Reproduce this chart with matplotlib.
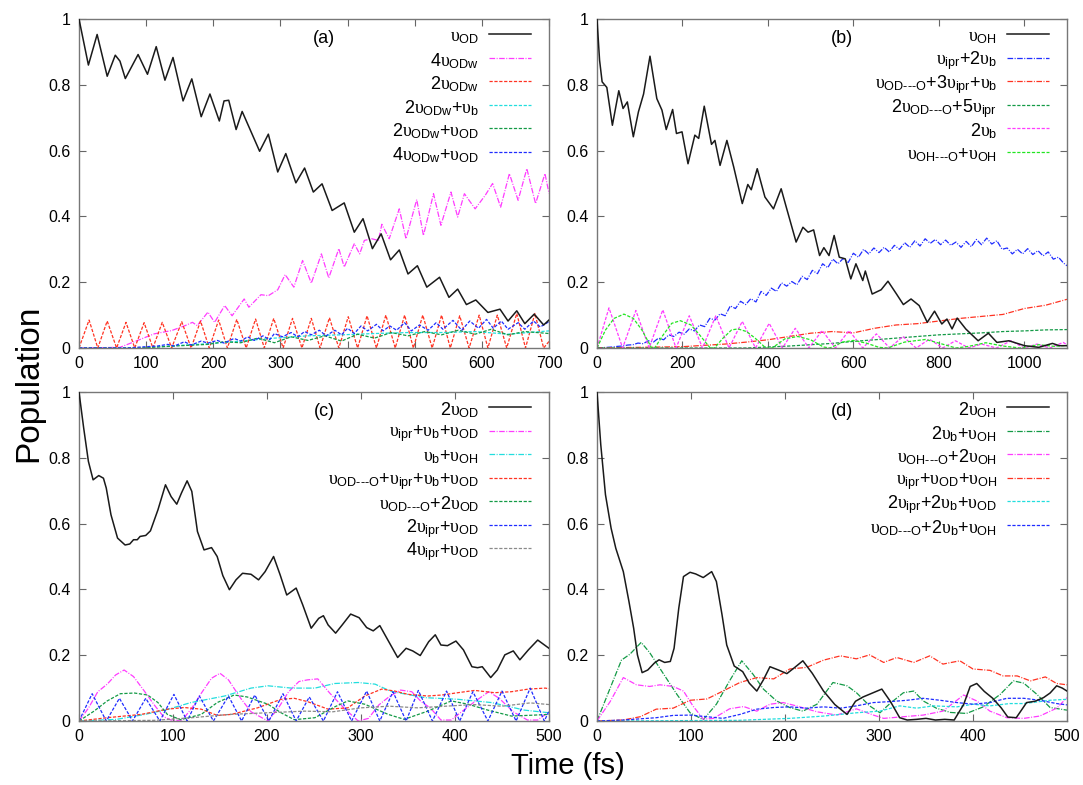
import matplotlib
matplotlib.use('Agg')
import matplotlib.pyplot as plt
from matplotlib.lines import Line2D

plt.rcParams['font.family'] = ['Liberation Sans', 'DejaVu Sans']
plt.rcParams['mathtext.fontset'] = 'custom'
plt.rcParams['mathtext.rm'] = 'Liberation Sans'
plt.rcParams['mathtext.it'] = 'Liberation Serif'
plt.rcParams['mathtext.bf'] = 'Liberation Sans:bold'

# ---------------- panel (a) ----------------
a_od_t = [0, 14, 27, 42, 54, 61, 69, 88, 102, 115, 128, 140, 155, 168, 182, 195, 209, 216, 223, 234, 243, 269,
          282, 296, 308, 323, 336, 349, 362, 377, 395, 410, 423, 437, 450, 464, 477, 490, 504, 518, 537, 551,
          564, 577, 591, 609, 627, 639, 652, 664, 678, 692, 700]
a_od_y = [1.0, 0.86, 0.953, 0.826, 0.89, 0.872, 0.819, 0.892, 0.832, 0.916, 0.814, 0.883, 0.751, 0.818, 0.703,
          0.772, 0.69, 0.751, 0.753, 0.664, 0.719, 0.598, 0.65, 0.535, 0.591, 0.502, 0.547, 0.474, 0.499, 0.418,
          0.441, 0.352, 0.393, 0.302, 0.347, 0.268, 0.298, 0.225, 0.25, 0.185, 0.215, 0.154, 0.179, 0.132, 0.146,
          0.108, 0.118, 0.082, 0.113, 0.074, 0.103, 0.07, 0.085]

a_4odw_t = [0, 61, 86, 112, 138, 158, 169, 176, 192, 202, 217, 228, 246, 253, 271, 282, 296, 307, 320, 333,
            346, 361, 372, 387, 395, 410, 418, 425, 436, 446, 451, 462, 477, 487, 503, 513, 528, 539, 554, 564,
            574, 590, 605, 616, 628, 641, 654, 667, 680, 694, 700]
a_4odw_y = [0, 0.002, 0.022, 0.043, 0.053, 0.068, 0.078, 0.068, 0.109, 0.078, 0.129, 0.098, 0.149, 0.124, 0.162,
            0.159, 0.177, 0.223, 0.185, 0.266, 0.197, 0.286, 0.213, 0.302, 0.246, 0.317, 0.286, 0.327, 0.332,
            0.327, 0.376, 0.332, 0.423, 0.332, 0.451, 0.342, 0.469, 0.373, 0.474, 0.398, 0.469, 0.423, 0.464,
            0.5, 0.428, 0.53, 0.449, 0.545, 0.439, 0.53, 0.47]

a_2odw_t = [0, 15, 28, 42, 56, 70, 83, 97, 110, 124, 138, 153, 167, 181, 194, 208, 221, 235, 249, 263, 276, 290,
            304, 318, 332, 346, 359, 373, 387, 401, 415, 429, 443, 457, 471, 485, 498, 512, 526, 540, 553, 567,
            581, 596, 609, 623, 637, 652, 665, 679, 692, 700]
a_2odw_y = [0, .085, 0, .082, 0, .078, 0, .077, 0, .078, 0, .08, 0, .082, 0, .085, 0, .087, 0, .088, 0, .09, 0,
            .09, 0, .09, 0, .092, 0, .095, 0, .098, 0, .1, 0, .1, 0, .1, 0, .1, 0, .098, 0, .1, 0, .1, 0, .105, 0,
            .105, 0, .02]

a_cyan_t = [0, 92, 142, 192, 241, 291, 341, 391, 440, 490, 540, 590, 639, 700]
a_cyan_y = [0, 0, 0.007, 0.013, 0.021, 0.03, 0.037, 0.04, 0.044, 0.047, 0.047, 0.05, 0.042, 0.052]

a_green_t = [0, 92, 142, 192, 216, 241, 266, 291, 316, 341, 366, 391, 415, 440, 465, 490, 515, 540, 565, 590,
             614, 639, 664, 700]
a_green_y = [0, 0, 0.006, 0.011, 0.019, 0.016, 0.03, 0.016, 0.034, 0.023, 0.037, 0.021, 0.042, 0.03, 0.047,
             0.037, 0.05, 0.04, 0.054, 0.042, 0.057, 0.04, 0.05, 0.044]

a_blue_t = [0, 72, 92, 117, 132, 142, 157, 167, 182, 192, 206, 216, 231, 241, 251, 261, 274, 284, 291, 303,
            316, 326, 336, 346, 358, 368, 381, 391, 400, 410, 420, 430, 443, 453, 463, 473, 485, 495, 507, 520,
            532, 542, 557, 570, 582, 595, 607, 617, 629, 639, 654, 664, 677, 687, 700]
a_blue_y = [0, 0, 0.003, 0.006, 0.011, 0.006, 0.019, 0.009, 0.021, 0.015, 0.023, 0.015, 0.029, 0.021, 0.034,
            0.023, 0.037, 0.025, 0.044, 0.034, 0.047, 0.034, 0.05, 0.04, 0.054, 0.037, 0.054, 0.04, 0.06, 0.044,
            0.067, 0.052, 0.072, 0.052, 0.067, 0.054, 0.077, 0.052, 0.07, 0.054, 0.077, 0.057, 0.084, 0.054,
            0.082, 0.06, 0.087, 0.06, 0.082, 0.057, 0.077, 0.057, 0.082, 0.064, 0.08]

# ---------------- panel (b) ----------------
b_oh_t = [0, 6, 12, 23, 36, 51, 61, 71, 85, 97, 109, 124, 140, 152, 162, 177, 186, 199, 213, 229, 238, 251, 268,
          276, 288, 304, 320, 340, 353, 361, 375, 393, 413, 431, 443, 466, 482, 494, 507, 521, 531, 543, 555,
          567, 581, 594, 606, 622, 628, 644, 665, 681, 701, 717, 735, 754, 773, 790, 807, 819, 831, 843, 863,
          892, 916, 936, 964, 1001, 1034, 1066, 1082, 1100]
b_oh_y = [1.0, 0.875, 0.809, 0.792, 0.677, 0.782, 0.728, 0.748, 0.642, 0.718, 0.772, 0.887, 0.758, 0.723,
          0.664, 0.725, 0.652, 0.657, 0.56, 0.647, 0.637, 0.735, 0.619, 0.631, 0.555, 0.631, 0.55, 0.439, 0.497,
          0.481, 0.545, 0.459, 0.423, 0.484, 0.428, 0.322, 0.367, 0.352, 0.359, 0.281, 0.305, 0.281, 0.342,
          0.276, 0.271, 0.21, 0.256, 0.205, 0.234, 0.164, 0.177, 0.203, 0.164, 0.132, 0.149, 0.129, 0.078, 0.112,
          0.073, 0.088, 0.058, 0.091, 0.058, 0.022, 0.045, 0.017, 0.022, 0.007, 0.002, 0.014, 0.007, 0.007]

b_ipr2b_t = [0, 12, 24, 36, 48, 60, 72, 84, 96, 108, 120, 132, 144, 156, 168, 180, 192, 204, 216, 228, 240,
             252, 264, 276, 288, 300, 312, 324, 336, 348, 360, 372, 384, 396, 408, 420, 432, 444, 456, 468, 480,
             492, 504, 516, 528, 540, 552, 564, 576, 588, 600, 612, 624, 636, 648, 660, 672, 684, 696, 708, 720,
             732, 744, 756, 768, 780, 792, 804, 816, 828, 840, 852, 864, 876, 888, 900, 912, 924, 936, 948, 960,
             972, 984, 996, 1008, 1020, 1032, 1044, 1056, 1068, 1080, 1092, 1100]
b_ipr2b_y = [0, 0.001, 0.002, 0.003, 0.005, 0.006, 0.009, 0.01, 0.015, 0.013, 0.022, 0.018, 0.03, 0.025, 0.04,
             0.035, 0.048, 0.042, 0.058, 0.052, 0.07, 0.065, 0.09, 0.085, 0.104, 0.098, 0.128, 0.12, 0.142, 0.132,
             0.15, 0.14, 0.172, 0.16, 0.182, 0.172, 0.198, 0.188, 0.202, 0.192, 0.218, 0.208, 0.236, 0.226, 0.256,
             0.244, 0.27, 0.256, 0.272, 0.26, 0.288, 0.276, 0.3, 0.286, 0.304, 0.29, 0.306, 0.292, 0.312, 0.3,
             0.32, 0.306, 0.326, 0.31, 0.332, 0.318, 0.33, 0.314, 0.328, 0.312, 0.322, 0.306, 0.324, 0.308, 0.33,
             0.314, 0.334, 0.316, 0.326, 0.3, 0.304, 0.286, 0.3, 0.286, 0.302, 0.284, 0.296, 0.28, 0.292, 0.27,
             0.276, 0.258, 0.25]

b_red_t = [0, 200, 300, 350, 400, 450, 500, 550, 600, 650, 700, 750, 800, 850, 900, 950, 1000, 1050, 1100]
b_red_y = [0, 0.004, 0.012, 0.018, 0.025, 0.035, 0.045, 0.05, 0.046, 0.06, 0.07, 0.074, 0.082, 0.09, 0.096,
           0.102, 0.12, 0.13, 0.148]

b_dgreen_t = [0, 350, 400, 450, 500, 550, 600, 650, 700, 750, 800, 850, 900, 950, 1000, 1050, 1100]
b_dgreen_y = [0, 0, 0.003, 0.006, 0.01, 0.014, 0.02, 0.025, 0.03, 0.035, 0.04, 0.043, 0.046, 0.05, 0.052,
              0.055, 0.056]

b_2b_t = [0, 28, 60, 91, 122, 154, 185, 216, 247, 278, 309, 340, 371, 403, 434, 464, 496, 527, 558, 590, 622,
          654, 685, 716, 747, 778, 809, 839, 870, 900, 935, 969, 1000, 1030, 1060, 1091, 1100]
b_2b_y = [0, .122, 0, .114, 0, .116, 0, .098, 0, .098, 0, .081, 0, .075, 0, .06, 0, .053, 0, .053, 0, .043, 0,
          .035, 0, .027, 0, .022, 0, .012, 0, .022, 0, .012, 0, .017, 0.01]

b_lime_t = [0, 20, 40, 63, 85, 105, 128, 135, 155, 175, 195, 220, 240, 265, 275, 295, 315, 330, 350, 370, 395,
            410, 440, 470, 500, 530, 545, 575, 600, 630, 660, 680, 720, 769, 800, 840, 870, 910, 950, 990, 1034,
            1070, 1100]
b_lime_y = [0, 0.055, 0.09, 0.103, 0.09, 0.055, 0, 0, 0.04, 0.075, 0.083, 0.07, 0.04, 0, 0, 0.03, 0.055, 0.058,
            0.05, 0.03, 0, 0, 0.028, 0.035, 0.025, 0.003, 0, 0.018, 0.023, 0.015, 0.002, 0, 0.018, 0.026, 0.015,
            0, 0.005, 0.016, 0.006, 0, 0.01, 0.005, 0.008]

# ---------------- panel (c) ----------------
c_2od_t = [0, 5, 10, 15, 21, 26, 29, 34, 41, 49, 54, 58, 62, 65, 71, 76, 84, 92, 98, 104, 109, 115, 120, 126,
           133, 141, 147, 153, 160, 167, 174, 183, 191, 198, 207, 214, 221, 231, 238, 247, 255, 260, 265, 273,
           280, 289, 298, 306, 313, 320, 328, 339, 348, 355, 363, 372, 379, 385, 392, 401, 409, 418, 424, 429,
           438, 445, 453, 462, 469, 478, 488, 500]
c_2od_y = [1.0, 0.89, 0.789, 0.733, 0.746, 0.738, 0.708, 0.627, 0.556, 0.535, 0.538, 0.551, 0.551, 0.561, 0.564,
           0.578, 0.642, 0.718, 0.682, 0.659, 0.693, 0.73, 0.698, 0.576, 0.52, 0.527, 0.5, 0.442, 0.399, 0.429,
           0.449, 0.446, 0.429, 0.454, 0.5, 0.444, 0.383, 0.404, 0.353, 0.282, 0.312, 0.32, 0.292, 0.267, 0.292,
           0.325, 0.314, 0.284, 0.274, 0.29, 0.249, 0.193, 0.221, 0.213, 0.199, 0.241, 0.262, 0.231, 0.229, 0.243,
           0.216, 0.165, 0.162, 0.165, 0.132, 0.155, 0.201, 0.213, 0.186, 0.216, 0.246, 0.221]

c_mag_t = [0, 10, 20, 30, 39, 48, 58, 70, 80, 90, 98, 109, 120, 130, 141, 150, 159, 172, 183, 201, 212, 223,
           234, 243, 254, 267, 282, 297, 308, 319, 330, 342, 354, 364, 374, 385, 396, 407, 421, 436, 447, 462,
           477, 488, 500]
c_mag_y = [0, 0.039, 0.089, 0.112, 0.14, 0.155, 0.135, 0.089, 0.049, 0.013, 0.003, 0, 0.039, 0.084, 0.13, 0.145,
           0.125, 0.069, 0.028, 0, 0.039, 0.089, 0.12, 0.125, 0.128, 0.084, 0.039, 0, 0.008, 0.049, 0.074, 0.094,
           0.089, 0.059, 0.039, 0.003, 0.003, 0.028, 0.059, 0.089, 0.069, 0.028, 0.003, 0.003, 0.028]

c_cyan_t = [0, 40, 70, 94, 119, 155, 183, 201, 226, 251, 272, 297, 315, 332, 368, 403, 439, 474, 500]
c_cyan_y = [0, 0.005, 0.02, 0.035, 0.056, 0.076, 0.1, 0.107, 0.1, 0.1, 0.114, 0.117, 0.112, 0.09, 0.071, 0.066,
            0.056, 0.033, 0.025]

c_red_t = [0, 30, 66, 94, 112, 130, 147, 162, 190, 215, 229, 243, 265, 286, 304, 322, 336, 350, 371, 386, 403,
           421, 442, 460, 478, 496, 500]
c_red_y = [0, 0.01, 0.02, 0.036, 0.041, 0.036, 0.017, 0.02, 0.04, 0.066, 0.069, 0.059, 0.036, 0.04, 0.076,
           0.097, 0.091, 0.081, 0.076, 0.079, 0.086, 0.093, 0.086, 0.089, 0.097, 0.1, 0.098]

c_green_t = [0, 16, 30, 44, 59, 73, 84, 94, 108, 130, 147, 165, 179, 201, 215, 229, 251, 272, 286, 304, 329,
             346, 371, 396, 414, 435, 460, 485, 500]
c_green_y = [0, 0.03, 0.061, 0.083, 0.085, 0.079, 0.056, 0.02, 0.004, 0.02, 0.056, 0.079, 0.073, 0.051, 0.025,
             0.004, 0.01, 0.043, 0.061, 0.051, 0.02, 0.005, 0.03, 0.061, 0.051, 0.033, 0.015, 0.018, 0.02]

c_blue_t = [0, 14, 29, 43, 57, 71, 86, 101, 115, 128, 143, 159, 173, 187, 202, 217, 231, 245, 260, 275, 290,
            306, 320, 334, 348, 361, 376, 391, 405, 419, 435, 450, 465, 480, 495, 500]
c_blue_y = [0, .083, 0, .069, 0, .069, 0, .081, 0, .076, 0, .076, 0, .079, 0, .083, 0, .073, 0, .089, 0, .091,
            0, .089, 0, .093, 0, .091, 0, .089, 0, .091, 0, .1, 0, .03]

c_gray_t = [0, 80, 120, 160, 200, 240, 270, 300, 330, 360, 390, 420, 450, 480, 500]
c_gray_y = [0, 0.002, 0.01, 0.02, 0.025, 0.03, 0.028, 0.04, 0.045, 0.04, 0.045, 0.05, 0.045, 0.055, 0.05]

# ---------------- panel (d) ----------------
d_2oh_t = [0, 4, 9, 15, 20, 28, 34, 39, 43, 48, 54, 61, 66, 72, 78, 82, 87, 92, 99, 105, 113, 122, 127, 133,
           138, 146, 155, 162, 170, 177, 184, 193, 202, 210, 219, 229, 241, 253, 266, 275, 283, 293, 303, 312,
           322, 330, 340, 350, 360, 370, 380, 390, 397, 404, 412, 421, 430, 437, 446, 452, 457, 466, 475, 482,
           489, 495, 500]
d_2oh_y = [1.0, 0.84, 0.688, 0.586, 0.525, 0.454, 0.363, 0.282, 0.201, 0.147, 0.155, 0.176, 0.186, 0.178, 0.181,
           0.221, 0.343, 0.439, 0.452, 0.447, 0.436, 0.454, 0.424, 0.323, 0.231, 0.167, 0.15, 0.115, 0.091, 0.125,
           0.165, 0.155, 0.144, 0.162, 0.183, 0.145, 0.091, 0.05, 0.02, 0.06, 0.073, 0.085, 0.097, 0.06, 0.01,
           0.003, 0.005, 0.008, 0.003, 0.005, 0.003, 0.05, 0.105, 0.114, 0.09, 0.069, 0.04, 0.012, 0.01, 0.035,
           0.056, 0.06, 0.071, 0.085, 0.107, 0.1, 0.091]

d_green_t = [0, 14, 26, 35, 47, 56, 71, 85, 99, 113, 127, 141, 154, 166, 177, 191, 205, 219, 234, 251, 266, 276,
             290, 301, 312, 326, 337, 347, 361, 376, 393, 411, 429, 443, 454, 468, 482, 500]
d_green_y = [0, 0.1, 0.185, 0.203, 0.239, 0.208, 0.142, 0.081, 0.025, 0.004, 0.051, 0.122, 0.183, 0.142, 0.097,
             0.061, 0.041, 0.03, 0.051, 0.117, 0.107, 0.086, 0.046, 0.025, 0.054, 0.086, 0.091, 0.061, 0.039,
             0.026, 0.023, 0.043, 0.081, 0.122, 0.115, 0.081, 0.041, 0.033]

d_mag_t = [0, 14, 28, 42, 56, 67, 81, 92, 102, 113, 124, 141, 156, 170, 184, 198, 212, 234, 255, 276, 294, 305,
           326, 347, 368, 390, 404, 418, 436, 454, 471, 489, 500]
d_mag_y = [0, 0.059, 0.132, 0.11, 0.105, 0.11, 0.105, 0.091, 0.046, 0.006, 0.008, 0.037, 0.044, 0.03, 0.051,
           0.056, 0.046, 0.028, 0.018, 0.037, 0.018, 0.008, 0.013, 0.018, 0.03, 0.079, 0.061, 0.03, 0.01, 0.008,
           0.015, 0.039, 0.071]

d_red_t = [0, 28, 46, 63, 81, 99, 117, 134, 152, 170, 188, 205, 223, 241, 259, 276, 290, 305, 319, 337, 354,
           368, 386, 400, 418, 432, 447, 461, 477, 489, 500]
d_red_y = [0, 0.003, 0.013, 0.036, 0.039, 0.063, 0.067, 0.091, 0.117, 0.132, 0.128, 0.158, 0.163, 0.185, 0.198,
           0.189, 0.201, 0.178, 0.193, 0.178, 0.198, 0.173, 0.183, 0.158, 0.154, 0.137, 0.137, 0.122, 0.134,
           0.114, 0.11]

d_cyan_t = [0, 150, 205, 241, 276, 301, 322, 340, 358, 383, 400, 418, 439, 454, 482, 500]
d_cyan_y = [0, 0.002, 0.008, 0.015, 0.025, 0.03, 0.046, 0.039, 0.046, 0.043, 0.051, 0.046, 0.053, 0.053, 0.063,
            0.066]

d_blue_t = [0, 28, 63, 81, 99, 117, 134, 152, 170, 188, 205, 223, 241, 259, 276, 294, 312, 330, 347, 365, 383,
            400, 418, 436, 454, 471, 489, 500]
d_blue_y = [0, 0.003, 0.01, 0.017, 0.018, 0.013, 0.008, 0.02, 0.036, 0.041, 0.043, 0.039, 0.043, 0.039, 0.046,
            0.056, 0.059, 0.063, 0.069, 0.063, 0.056, 0.051, 0.056, 0.069, 0.069, 0.063, 0.053, 0.049]


def u(sub):
    return r'\mathit{υ}_{\mathrm{%s}}' % sub


def lab(*parts):
    return '$' + ''.join(parts) + '$'


P = r'\mathrm{+}'
HB = 'OD‐‐‐O'
HH = 'OH‐‐‐O'

DASH = (0, (2.6, 1.3))
DDOT = (0, (4.5, 1.2, 0.8, 1.2))

MAG = '#ff3cff'
RED = '#ff3322'
CYAN = '#22dede'
GRN = '#139a46'
BLUE = '#1f2cff'
LIME = '#22e622'
GRAY = '#8a8a8a'

fig = plt.figure(figsize=(10.83, 7.85), dpi=100)
W, H = 1083.0, 785.0


def make_ax(left, top, right, bottom):
    return fig.add_axes([left / W, 1 - bottom / H, (right - left) / W, (bottom - top) / H])


panels = [
    dict(box=(79, 19, 549, 348), xmax=700, xticks=range(0, 701, 100), tag='(a)',
         series=[
             (a_od_t, a_od_y, 'k', '-', lab(u('OD'))),
             (a_4odw_t, a_4odw_y, MAG, DDOT, lab('4', u('ODw'))),
             (a_2odw_t, a_2odw_y, RED, DASH, lab('2', u('ODw'))),
             (a_cyan_t, a_cyan_y, CYAN, DASH, lab('2', u('ODw'), P, u('b'))),
             (a_green_t, a_green_y, GRN, DASH, lab('2', u('ODw'), P, u('OD'))),
             (a_blue_t, a_blue_y, BLUE, DASH, lab('4', u('ODw'), P, u('OD'))),
         ]),
    dict(box=(597, 19, 1067, 348), xmax=1100, xticks=range(0, 1001, 200), tag='(b)',
         series=[
             (b_oh_t, b_oh_y, 'k', '-', lab(u('OH'))),
             (b_ipr2b_t, b_ipr2b_y, BLUE, DDOT, lab(u('ipr'), P, '2', u('b'))),
             (b_red_t, b_red_y, RED, DDOT, lab(u(HB), P, '3', u('ipr'), P, u('b'))),
             (b_dgreen_t, b_dgreen_y, GRN, DASH, lab('2', u(HB), P, '5', u('ipr'))),
             (b_2b_t, b_2b_y, MAG, DASH, lab('2', u('b'))),
             (b_lime_t, b_lime_y, LIME, DASH, lab(u(HH), P, u('OH'))),
         ]),
    dict(box=(79, 392, 549, 721), xmax=500, xticks=range(0, 501, 100), tag='(c)',
         series=[
             (c_2od_t, c_2od_y, 'k', '-', lab('2', u('OD'))),
             (c_mag_t, c_mag_y, MAG, DDOT, lab(u('ipr'), P, u('b'), P, u('OD'))),
             (c_cyan_t, c_cyan_y, CYAN, DDOT, lab(u('b'), P, u('OH'))),
             (c_red_t, c_red_y, RED, DASH, lab(u(HB), P, u('ipr'), P, u('b'), P, u('OD'))),
             (c_green_t, c_green_y, GRN, DASH, lab(u(HB), P, '2', u('OD'))),
             (c_blue_t, c_blue_y, BLUE, DASH, lab('2', u('ipr'), P, u('OD'))),
             (c_gray_t, c_gray_y, GRAY, DASH, lab('4', u('ipr'), P, u('OD'))),
         ]),
    dict(box=(597, 392, 1067, 721), xmax=500, xticks=range(0, 501, 100), tag='(d)',
         series=[
             (d_2oh_t, d_2oh_y, 'k', '-', lab('2', u('OH'))),
             (d_green_t, d_green_y, GRN, DDOT, lab('2', u('b'), P, u('OH'))),
             (d_mag_t, d_mag_y, MAG, DDOT, lab(u(HH), P, '2', u('OH'))),
             (d_red_t, d_red_y, RED, DDOT, lab(u('ipr'), P, u('OD'), P, u('OH'))),
             (d_cyan_t, d_cyan_y, CYAN, DASH, lab('2', u('ipr'), P, '2', u('b'), P, u('OD'))),
             (d_blue_t, d_blue_y, BLUE, DASH, lab(u(HB), P, '2', u('b'), P, u('OH'))),
         ]),
]

for p in panels:
    ax = make_ax(*p['box'])
    for i, (t, y, c, ls, name) in enumerate(p['series']):
        if c == 'k':
            ax.plot(t, y, color='#1a1a1a', lw=1.1, ls='-', zorder=3)
        else:
            ax.plot(t, y, color=c, lw=0.9, ls=ls, zorder=2)
        # gnuplot-style key: right aligned text + line sample
        ry = 0.954 - i * 0.0716
        ax.text(0.851, ry - 0.01, name, transform=ax.transAxes, ha='right', va='center', fontsize=13)
        ax.add_line(Line2D([0.872, 0.962], [ry, ry], transform=ax.transAxes,
                           color='#1a1a1a' if c == 'k' else c, lw=1.1 if c == 'k' else 0.9,
                           ls='-' if c == 'k' else ls))
    ax.text(0.522, 0.942, p['tag'], transform=ax.transAxes, ha='center', va='center', fontsize=13)
    ax.set_xlim(0, p['xmax'])
    ax.set_ylim(0, 1)
    ax.set_xticks(list(p['xticks']))
    ax.set_yticks([0, 0.2, 0.4, 0.6, 0.8, 1.0])
    ax.set_yticklabels(['0', '0.2', '0.4', '0.6', '0.8', '1'])
    ax.tick_params(direction='in', top=True, right=True, length=5, width=0.8, color='#666666',
                   labelsize=11.5, pad=6)
    for s in ax.spines.values():
        s.set_color('#777777')
        s.set_linewidth(1.0)

fig.text(0.027, 0.512, 'Population', rotation=90, ha='center', va='center', fontsize=24)
fig.text(0.524, 0.024, 'Time (fs)', ha='center', va='center', fontsize=21)

fig.savefig('out.png', dpi=100)
